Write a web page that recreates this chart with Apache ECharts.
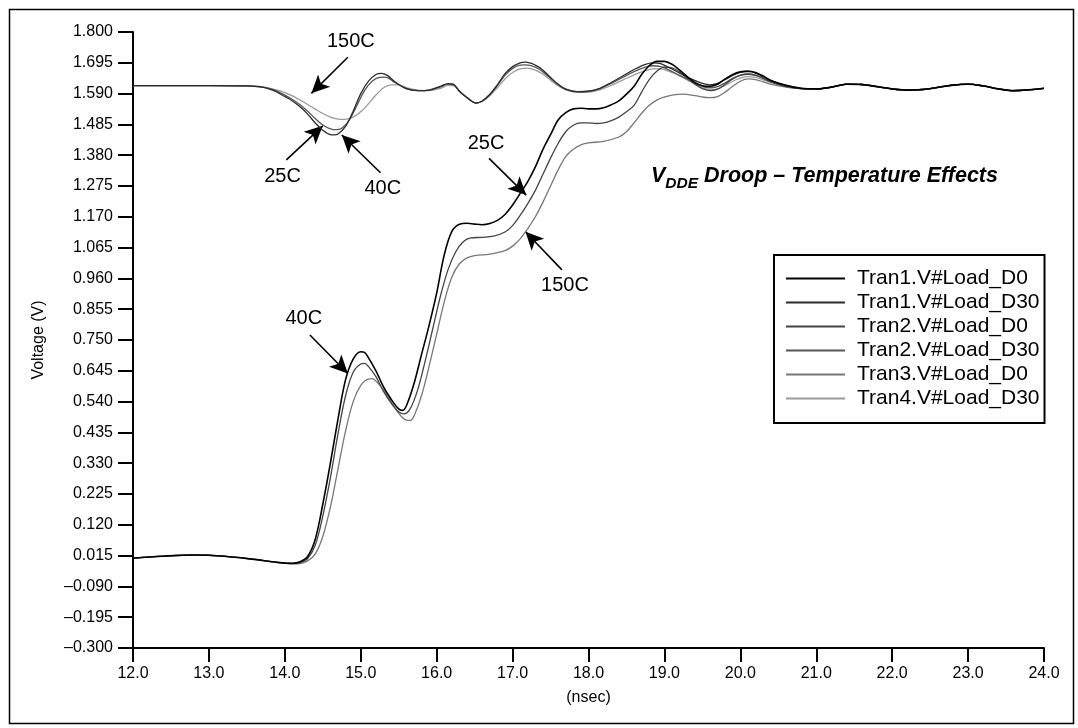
<!DOCTYPE html>
<html>
<head>
<meta charset="utf-8">
<script src="https://cdn.jsdelivr.net/npm/echarts@6/dist/echarts.min.js"></script>
<style>
html,body{margin:0;padding:0;background:#fff;}
#chart{width:1078px;height:728px;}
</style>
</head>
<body>
<div id="chart"></div>
<script>
// ---- Data (time in nsec, voltage in V) ----
const xTicks = [12.0, 24.0, 1.0];       // min, max, step of the time axis
const yTicks = [-0.300, 1.800, 0.105];  // min, max, step of the voltage axis

const seriesNames = [
  'Tran1.V#Load_D0', 'Tran1.V#Load_D30', 'Tran2.V#Load_D0',
  'Tran2.V#Load_D30', 'Tran3.V#Load_D0', 'Tran4.V#Load_D30'
];

// common settled tail (all traces merge after ~20.8 ns)
const sharedTail = [
  [21.0,1.606],[21.2,1.612],[21.4,1.622],[21.6,1.621],[21.8,1.614],[22.0,1.606],
  [22.2,1.602],[22.4,1.604],[22.6,1.611],[22.8,1.619],[23.0,1.622],[23.2,1.616],
  [23.4,1.606],[23.6,1.600],[23.8,1.603],[24.0,1.608]
];

// bottom cluster (load node rising from 0 V)
const tran1D0 = [
  [12.0,0.006],[12.4,0.013],[12.8,0.017],[13.2,0.013],[13.6,0.002],[13.9,-0.008],[14.1,-0.011],
  [14.2,-0.006],[14.3,0.012],[14.4,0.07],[14.5,0.19],[14.6,0.33],[14.7,0.48],[14.8,0.615],
  [14.9,0.685],[15.0,0.71],[15.05,0.708],[15.1,0.69],[15.2,0.645],[15.3,0.59],[15.4,0.548],
  [15.5,0.515],[15.55,0.51],[15.6,0.525],[15.7,0.60],[15.8,0.70],[15.9,0.80],[16.0,0.91],
  [16.1,1.04],[16.2,1.12],[16.3,1.145],[16.4,1.148],[16.5,1.145],[16.6,1.143],[16.7,1.147],
  [16.8,1.158],[16.9,1.178],[17.0,1.21],[17.1,1.25],[17.2,1.29],[17.3,1.34],[17.4,1.40],
  [17.5,1.45],[17.6,1.50],[17.7,1.525],[17.8,1.538],[17.9,1.54],[18.0,1.538],[18.1,1.538],
  [18.2,1.542],[18.3,1.552],[18.4,1.565],[18.5,1.588],[18.6,1.615],[18.7,1.655],[18.8,1.685],
  [18.9,1.70],[19.0,1.70],[19.1,1.69],[19.2,1.67],[19.3,1.648],[19.4,1.628],[19.5,1.617],
  [19.6,1.615],[19.7,1.622],[19.8,1.64],[19.9,1.655],[20.0,1.664],[20.1,1.667],[20.2,1.662],
  [20.3,1.65],[20.4,1.635],[20.6,1.618],[20.8,1.608]
];
const tran2D0 = [
  [12.0,0.006],[12.4,0.013],[12.8,0.017],[13.2,0.013],[13.6,0.002],[13.9,-0.008],[14.1,-0.012],
  [14.2,-0.009],[14.3,0.005],[14.4,0.05],[14.5,0.15],[14.6,0.28],[14.7,0.43],[14.8,0.56],
  [14.9,0.64],[15.0,0.668],[15.05,0.67],[15.1,0.66],[15.2,0.625],[15.3,0.575],[15.4,0.535],
  [15.5,0.505],[15.57,0.498],[15.65,0.515],[15.75,0.58],[15.85,0.68],[15.95,0.79],[16.05,0.90],
  [16.15,0.99],[16.25,1.05],[16.35,1.085],[16.45,1.098],[16.6,1.10],[16.75,1.104],[16.9,1.118],
  [17.0,1.14],[17.1,1.175],[17.2,1.215],[17.3,1.26],[17.4,1.315],[17.5,1.37],[17.6,1.42],
  [17.7,1.46],[17.8,1.482],[17.9,1.49],[18.0,1.49],[18.1,1.488],[18.2,1.49],[18.3,1.498],
  [18.4,1.51],[18.5,1.528],[18.6,1.55],[18.7,1.595],[18.8,1.638],[18.9,1.666],[19.0,1.68],
  [19.1,1.678],[19.2,1.664],[19.3,1.643],[19.4,1.622],[19.5,1.607],[19.6,1.60],[19.7,1.605],
  [19.8,1.622],[19.9,1.64],[20.0,1.652],[20.1,1.656],[20.2,1.652],[20.3,1.642],[20.4,1.63],
  [20.6,1.615],[20.8,1.607]
];
const tran3D0 = [
  [12.0,0.006],[12.4,0.013],[12.8,0.017],[13.2,0.013],[13.6,0.002],[13.9,-0.008],[14.1,-0.013],
  [14.2,-0.012],[14.3,-0.003],[14.4,0.02],[14.5,0.08],[14.6,0.18],[14.7,0.31],[14.8,0.44],
  [14.9,0.54],[15.0,0.595],[15.1,0.617],[15.15,0.618],[15.2,0.61],[15.3,0.58],[15.4,0.54],
  [15.5,0.50],[15.6,0.477],[15.65,0.476],[15.7,0.49],[15.8,0.56],[15.9,0.66],[16.0,0.77],
  [16.1,0.88],[16.2,0.965],[16.3,1.01],[16.4,1.03],[16.5,1.038],[16.7,1.043],[16.9,1.055],
  [17.0,1.07],[17.1,1.095],[17.2,1.13],[17.3,1.17],[17.4,1.22],[17.5,1.275],[17.6,1.33],
  [17.7,1.375],[17.8,1.40],[17.9,1.415],[18.0,1.422],[18.2,1.427],[18.4,1.442],[18.5,1.46],
  [18.6,1.49],[18.7,1.523],[18.8,1.55],[18.9,1.568],[19.0,1.578],[19.1,1.585],[19.25,1.588],
  [19.4,1.583],[19.6,1.576],[19.7,1.58],[19.8,1.595],[19.9,1.615],[20.0,1.632],[20.1,1.64],
  [20.2,1.638],[20.3,1.63],[20.4,1.622],[20.6,1.612],[20.8,1.607]
];

// top cluster (VDDE supply droop)
const tran1D30 = [
  [12.0,1.617],[13.0,1.617],[13.5,1.616],[13.7,1.612],[13.8,1.605],[13.9,1.595],[14.0,1.58],
  [14.1,1.565],[14.2,1.545],[14.3,1.52],[14.4,1.49],[14.5,1.465],[14.6,1.45],[14.65,1.449],
  [14.7,1.452],[14.8,1.478],[14.9,1.53],[15.0,1.59],[15.1,1.632],[15.2,1.655],[15.27,1.659],
  [15.35,1.652],[15.45,1.63],[15.6,1.607],[15.75,1.60],[15.9,1.602],[16.05,1.615],[16.15,1.624],
  [16.22,1.622],[16.3,1.598],[16.4,1.576],[16.52,1.558],[16.6,1.565],[16.7,1.587],[16.8,1.62],
  [16.9,1.658],[17.0,1.682],[17.1,1.695],[17.17,1.697],[17.3,1.687],[17.4,1.67],[17.5,1.645],
  [17.6,1.622],[17.7,1.605],[17.85,1.596],[18.0,1.598],[18.15,1.608],[18.3,1.628],[18.45,1.65],
  [18.6,1.672],[18.75,1.69],[18.85,1.695],[18.95,1.692],[19.05,1.68],[19.2,1.66],[19.35,1.64],
  [19.5,1.625],[19.6,1.62],[19.7,1.625],[19.8,1.638],[19.9,1.652],[20.0,1.662],[20.1,1.665],
  [20.2,1.66],[20.3,1.648],[20.4,1.635],[20.6,1.618],[20.8,1.608]
];
const tran2D30 = [
  [12.0,1.617],[13.0,1.617],[13.5,1.616],[13.7,1.613],[13.8,1.607],[13.9,1.598],[14.0,1.585],
  [14.1,1.57],[14.2,1.552],[14.3,1.53],[14.4,1.505],[14.5,1.483],[14.6,1.47],[14.68,1.467],
  [14.75,1.472],[14.85,1.50],[14.95,1.55],[15.05,1.60],[15.15,1.632],[15.25,1.645],[15.32,1.646],
  [15.45,1.628],[15.6,1.607],[15.75,1.60],[15.9,1.602],[16.05,1.613],[16.15,1.622],[16.22,1.62],
  [16.3,1.598],[16.4,1.577],[16.52,1.558],[16.6,1.565],[16.7,1.587],[16.8,1.618],[16.9,1.652],
  [17.0,1.676],[17.1,1.687],[17.17,1.688],[17.3,1.68],[17.4,1.664],[17.5,1.642],[17.6,1.62],
  [17.7,1.605],[17.85,1.597],[18.0,1.598],[18.15,1.607],[18.3,1.625],[18.45,1.645],[18.6,1.665],
  [18.75,1.68],[18.85,1.685],[18.95,1.682],[19.05,1.672],[19.2,1.652],[19.35,1.633],[19.5,1.615],
  [19.6,1.61],[19.7,1.614],[19.8,1.627],[19.9,1.642],[20.0,1.653],[20.1,1.657],[20.2,1.653],
  [20.3,1.643],[20.4,1.632],[20.6,1.616],[20.8,1.607]
];
const tran4D30 = [
  [12.0,1.617],[13.0,1.617],[13.6,1.615],[13.8,1.608],[13.9,1.602],[14.0,1.593],[14.1,1.582],
  [14.2,1.568],[14.3,1.553],[14.4,1.537],[14.5,1.522],[14.6,1.51],[14.7,1.503],[14.78,1.502],
  [14.9,1.51],[15.0,1.528],[15.1,1.555],[15.2,1.585],[15.3,1.61],[15.4,1.62],[15.5,1.62],
  [15.6,1.61],[15.75,1.602],[15.9,1.60],[16.05,1.608],[16.15,1.618],[16.22,1.617],[16.3,1.598],
  [16.4,1.577],[16.52,1.558],[16.6,1.563],[16.7,1.583],[16.8,1.61],[16.9,1.64],[17.0,1.662],
  [17.1,1.674],[17.2,1.677],[17.3,1.67],[17.4,1.656],[17.5,1.636],[17.6,1.617],[17.7,1.603],
  [17.85,1.595],[18.0,1.595],[18.15,1.603],[18.3,1.618],[18.45,1.636],[18.6,1.654],[18.75,1.668],
  [18.85,1.674],[18.95,1.674],[19.05,1.667],[19.2,1.65],[19.35,1.63],[19.5,1.61],[19.6,1.603],
  [19.7,1.606],[19.8,1.618],[19.9,1.632],[20.0,1.643],[20.1,1.648],[20.2,1.645],[20.3,1.637],
  [20.4,1.628],[20.6,1.614],[20.8,1.607]
];

const seriesValues = [tran1D0, tran1D30, tran2D0, tran2D30, tran3D0, tran4D30];
const seriesColors = ['#000000', '#2b2b2b', '#444444', '#555555', '#777777', '#9a9a9a'];

// annotation labels and arrows, in data coordinates (nsec, V)
const annoText = ['150C', '25C', '40C', '25C', '150C', '40C'];
const annoTextAt = [[14.87,1.767],[13.97,1.307],[15.29,1.267],[16.65,1.42],[17.69,0.935],[14.25,0.825]];
const annoArrowFrom = [[14.83,1.714],[14.02,1.364],[15.26,1.32],[16.69,1.369],[17.65,0.989],[14.33,0.767]];
const annoArrowTo = [[14.35,1.591],[14.50,1.48],[14.75,1.449],[17.18,1.244],[17.17,1.119],[14.83,0.636]];

// ---- Chart ----
const FONT = 'Liberation Sans, Arial, sans-serif';
const chart = echarts.init(document.getElementById('chart'), null, {renderer: 'canvas'});

const series = seriesNames.map((name, i) => {
  const s = {
    name: name,
    type: 'line',
    data: seriesValues[i].concat(sharedTail),
    smooth: 0.35,
    symbol: 'none',
    lineStyle: {color: seriesColors[i], width: i === 0 ? 1.6 : 1.3},
    itemStyle: {color: seriesColors[i]},
    emphasis: {disabled: true},
    z: 10 - i
  };
  if (i === 0) {
    s.markLine = {
      silent: true,
      symbol: ['none', 'arrow'],
      symbolSize: [13, 18],
      label: {show: false},
      lineStyle: {color: '#000', width: 1.6, type: 'solid'},
      data: annoArrowFrom.map((f, k) => [{coord: f}, {coord: annoArrowTo[k]}])
    };
    s.markPoint = {
      silent: true,
      symbol: 'circle',
      symbolSize: 1,
      itemStyle: {color: 'rgba(0,0,0,0)'},
      label: {show: true, position: 'inside', formatter: '{b}', color: '#000',
              fontFamily: FONT, fontSize: 20},
      data: annoText.map((t, k) => ({name: t, coord: annoTextAt[k]}))
    };
  }
  return s;
});

const option = {
  animation: false,
  backgroundColor: '#fff',
  grid: {left: 133, right: 34, top: 32, bottom: 80, containLabel: false},
  xAxis: {
    type: 'value',
    min: xTicks[0], max: xTicks[1], interval: xTicks[2],
    name: '(nsec)', nameLocation: 'middle', nameGap: 42,
    nameTextStyle: {color: '#000', fontFamily: FONT, fontSize: 16},
    axisLine: {onZero: false, lineStyle: {color: '#000', width: 2}},
    axisTick: {inside: false, length: 14, lineStyle: {color: '#000', width: 2}},
    axisLabel: {color: '#000', fontFamily: FONT, fontSize: 16, margin: 18,
                formatter: v => v.toFixed(1)},
    splitLine: {show: false}
  },
  yAxis: {
    type: 'value',
    min: yTicks[0], max: yTicks[1], interval: yTicks[2],
    name: 'Voltage (V)', nameLocation: 'middle', nameGap: 86, nameRotate: 90,
    nameTextStyle: {color: '#000', fontFamily: FONT, fontSize: 16},
    axisLine: {onZero: false, lineStyle: {color: '#000', width: 2}},
    axisTick: {inside: false, length: 15, lineStyle: {color: '#000', width: 2}},
    axisLabel: {color: '#000', fontFamily: FONT, fontSize: 16, margin: 20,
                formatter: v => (v < 0 ? '\u2013' + Math.abs(v).toFixed(3) : v.toFixed(3))},
    splitLine: {show: false}
  },
  legend: {
    data: seriesNames,
    orient: 'vertical',
    left: 774, top: 255,
    padding: [13, 5, 14, 12],
    itemGap: 3,
    itemWidth: 59, itemHeight: 2,
    icon: 'rect',
    borderColor: '#000', borderWidth: 2,
    backgroundColor: '#fff',
    textStyle: {color: '#000', fontFamily: FONT, fontSize: 21, padding: [0, 0, 0, 7]},
    selectedMode: false
  },
  graphic: [
    {
      type: 'rect', left: 7, top: 7, silent: true,
      shape: {width: 1064, height: 714},
      style: {fill: 'none', stroke: '#000', lineWidth: 1.5}
    },
    {
      type: 'text', left: 651, top: 165, silent: true,
      style: {
        text: '{v|V}{s|DDE}{v| Droop \u2013 Temperature Effects}',
        rich: {
          v: {fontFamily: FONT, fontSize: 21.5, fontWeight: 'bold', fontStyle: 'italic',
              fill: '#000', lineHeight: 27, verticalAlign: 'top'},
          s: {fontFamily: FONT, fontSize: 15.5, fontWeight: 'bold', fontStyle: 'italic',
              fill: '#000', verticalAlign: 'bottom'}
        }
      }
    }
  ],
  series: series
};

chart.setOption(option);
</script>
</body>
</html>
